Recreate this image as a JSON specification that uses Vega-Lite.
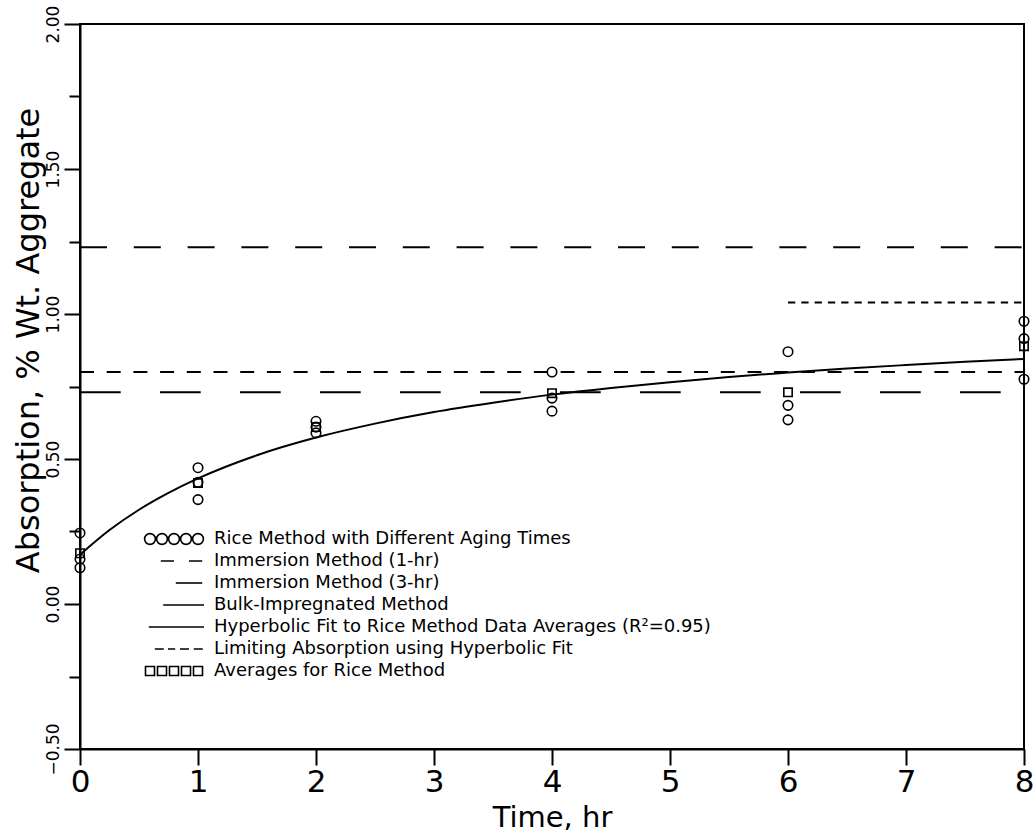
{
  "$schema": "https://vega.github.io/schema/vega-lite/v6.json",
  "width": 944,
  "height": 725,
  "autosize": {"type": "none"},
  "padding": {"left": 80, "top": 24, "right": 10, "bottom": 87},
  "background": "white",
  "config": {
    "view": {"stroke": "black", "strokeWidth": 2},
    "font": "DejaVu Sans",
    "axis": {
      "grid": false,
      "domainColor": "black",
      "domainWidth": 2,
      "tickColor": "black",
      "tickWidth": 2,
      "labelColor": "black",
      "titleColor": "black",
      "labelFont": "DejaVu Sans",
      "titleFont": "DejaVu Sans",
      "titleFontWeight": "normal"
    }
  },
  "datasets": {
    "rice": [
      {"t": 0, "absorption": 0.245},
      {"t": 0, "absorption": 0.155},
      {"t": 0, "absorption": 0.125},
      {"t": 1, "absorption": 0.47},
      {"t": 1, "absorption": 0.42},
      {"t": 1, "absorption": 0.36},
      {"t": 2, "absorption": 0.63},
      {"t": 2, "absorption": 0.61},
      {"t": 2, "absorption": 0.59},
      {"t": 4, "absorption": 0.80},
      {"t": 4, "absorption": 0.71},
      {"t": 4, "absorption": 0.665},
      {"t": 6, "absorption": 0.87},
      {"t": 6, "absorption": 0.685},
      {"t": 6, "absorption": 0.635},
      {"t": 8, "absorption": 0.975},
      {"t": 8, "absorption": 0.915},
      {"t": 8, "absorption": 0.775}
    ],
    "averages": [
      {"t": 0, "absorption": 0.175},
      {"t": 1, "absorption": 0.417},
      {"t": 2, "absorption": 0.61},
      {"t": 4, "absorption": 0.727},
      {"t": 6, "absorption": 0.73},
      {"t": 8, "absorption": 0.889}
    ],
    "fit": [
      {"t": 0, "absorption": 0.170},
      {"t": 0.25, "absorption": 0.255},
      {"t": 0.5, "absorption": 0.325},
      {"t": 0.75, "absorption": 0.383},
      {"t": 1, "absorption": 0.433},
      {"t": 1.5, "absorption": 0.513},
      {"t": 2, "absorption": 0.574},
      {"t": 2.5, "absorption": 0.622},
      {"t": 3, "absorption": 0.662},
      {"t": 3.5, "absorption": 0.694},
      {"t": 4, "absorption": 0.722},
      {"t": 4.5, "absorption": 0.745},
      {"t": 5, "absorption": 0.765},
      {"t": 5.5, "absorption": 0.783},
      {"t": 6, "absorption": 0.798},
      {"t": 6.5, "absorption": 0.812},
      {"t": 7, "absorption": 0.824},
      {"t": 7.5, "absorption": 0.835},
      {"t": 8, "absorption": 0.845}
    ],
    "levels": [
      {"series": "Immersion Method (1-hr)", "t": 0, "t_end": 8, "absorption": 0.80},
      {"series": "Immersion Method (3-hr)", "t": 0, "t_end": 8, "absorption": 1.23},
      {"series": "Bulk-Impregnated Method", "t": 0, "t_end": 8, "absorption": 0.73},
      {"series": "Limiting Absorption using Hyperbolic Fit", "t": 6, "t_end": 8, "absorption": 1.04}
    ],
    "legendEntries": [
      {"series": "Rice Method with Different Aging Times"},
      {"series": "Immersion Method (1-hr)"},
      {"series": "Immersion Method (3-hr)"},
      {"series": "Bulk-Impregnated Method"},
      {"series": "Hyperbolic Fit to Rice Method Data Averages (R²=0.95)"},
      {"series": "Limiting Absorption using Hyperbolic Fit"},
      {"series": "Averages for Rice Method"}
    ]
  },
  "encoding": {
    "x": {
      "field": "t",
      "type": "quantitative",
      "scale": {"domain": [0, 8], "nice": false, "zero": false},
      "axis": {
        "title": "Time, hr",
        "values": [0, 1, 2, 3, 4, 5, 6, 7, 8],
        "format": "d",
        "tickSize": 16,
        "labelFontSize": 31,
        "labelPadding": 2,
        "labelFlush": false,
        "labelOverlap": false,
        "titleFontSize": 29,
        "titlePadding": 6
      }
    },
    "y": {
      "field": "absorption",
      "type": "quantitative",
      "scale": {"domain": [-0.5, 2.0], "nice": false, "zero": false},
      "axis": {
        "title": "Absorption, % Wt. Aggregate",
        "values": [-0.5, -0.25, 0, 0.25, 0.5, 0.75, 1.0, 1.25, 1.5, 1.75, 2.0],
        "labelExpr": "abs(datum.value*2 - round(datum.value*2)) < 0.001 ? format(datum.value, '.2f') : ''",
        "tickSize": {"condition": {"test": "abs(datum.value*2 - round(datum.value*2)) > 0.001", "value": 11}, "value": 16},
        "labelAngle": 270,
        "labelAlign": "center",
        "labelBaseline": "bottom",
        "labelFontSize": 17,
        "labelPadding": 2,
        "labelFlush": false,
        "labelOverlap": false,
        "titleFontSize": 32,
        "titleAngle": 270,
        "titleAlign": "center",
        "titleBaseline": "alphabetic",
        "titleX": -42,
        "titleY": 316
      }
    }
  },
  "layer": [
    {
      "data": {"name": "levels"},
      "mark": {"type": "rule", "strokeWidth": 2, "color": "black", "strokeCap": "butt"},
      "encoding": {
        "x2": {"field": "t_end"},
        "strokeDash": {
          "field": "series",
          "type": "nominal",
          "scale": {
            "domain": ["Immersion Method (1-hr)", "Immersion Method (3-hr)", "Bulk-Impregnated Method", "Limiting Absorption using Hyperbolic Fit"],
            "range": [[14, 12.7], [27, 26.8], [40.7, 39.3], [7.3, 6]]
          },
          "legend": null
        }
      }
    },
    {
      "data": {"name": "fit"},
      "mark": {"type": "line", "color": "black", "strokeWidth": 2, "interpolate": "monotone"},
      "encoding": {}
    },
    {
      "data": {"name": "rice"},
      "mark": {"type": "point", "shape": "circle", "filled": false, "color": "black", "size": 90, "strokeWidth": 1.6, "opacity": 1}
    },
    {
      "data": {"name": "averages"},
      "mark": {"type": "point", "shape": "square", "filled": false, "color": "black", "size": 70, "strokeWidth": 1.6, "opacity": 1}
    },
    {
      "data": {"name": "legendEntries"},
      "mark": {"type": "point", "filled": false, "color": "black", "strokeWidth": 1.6, "opacity": 1},
      "encoding": {
        "shape": {
          "field": "series",
          "type": "nominal",
          "scale": {
            "domain": [
              "Rice Method with Different Aging Times",
              "Immersion Method (1-hr)",
              "Immersion Method (3-hr)",
              "Bulk-Impregnated Method",
              "Hyperbolic Fit to Rice Method Data Averages (R²=0.95)",
              "Limiting Absorption using Hyperbolic Fit",
              "Averages for Rice Method"
            ],
            "range": [
              "M-9.6,-1M-8.9,0a0.9,0.9 0 1,0 1.8,0a0.9,0.9 0 1,0 -1.8,0M-6.9,0a0.9,0.9 0 1,0 1.8,0a0.9,0.9 0 1,0 -1.8,0M-4.9,0a0.9,0.9 0 1,0 1.8,0a0.9,0.9 0 1,0 -1.8,0M-2.9,0a0.9,0.9 0 1,0 1.8,0a0.9,0.9 0 1,0 -1.8,0M-0.9,0a0.9,0.9 0 1,0 1.8,0a0.9,0.9 0 1,0 -1.8,0M1.6,1",
              "M-9.6,-1M-6.2,0L-4,0M-1.5,0L0.7,0M1.6,1",
              "M-9.6,-1M-3.7,0L0.7,0M1.6,1",
              "M-9.6,-1M-5.8,0L1,0M1.6,1",
              "M-9.6,-1M-8.2,0L1,0M1.6,1",
              "M-9.6,-1M-7.2,0L-5.7,0M-5,0L-3.8,0M-3,0L-1.5,0M-0.7,0L0.8,0M1.6,1",
              "M-9.6,-1M-8.75,-0.75h1.5v1.5h-1.5zM-6.75,-0.75h1.5v1.5h-1.5zM-4.75,-0.75h1.5v1.5h-1.5zM-2.75,-0.75h1.5v1.5h-1.5zM-0.75,-0.75h1.5v1.5h-1.5zM1.6,1"
            ]
          },
          "legend": {
            "orient": "none",
            "legendX": 109,
            "legendY": 506,
            "title": null,
            "padding": 0,
            "symbolSize": 144,
            "symbolStrokeWidth": 1.6,
            "symbolStrokeColor": "black",
            "symbolFillColor": "transparent",
            "symbolOpacity": 1,
            "labelFont": "DejaVu Sans",
            "labelFontSize": 18,
            "labelColor": "black",
            "labelOffset": 7,
            "labelLimit": 0,
            "rowPadding": 2,
            "symbolLimit": 0
          }
        }
      }
    }
  ]
}
